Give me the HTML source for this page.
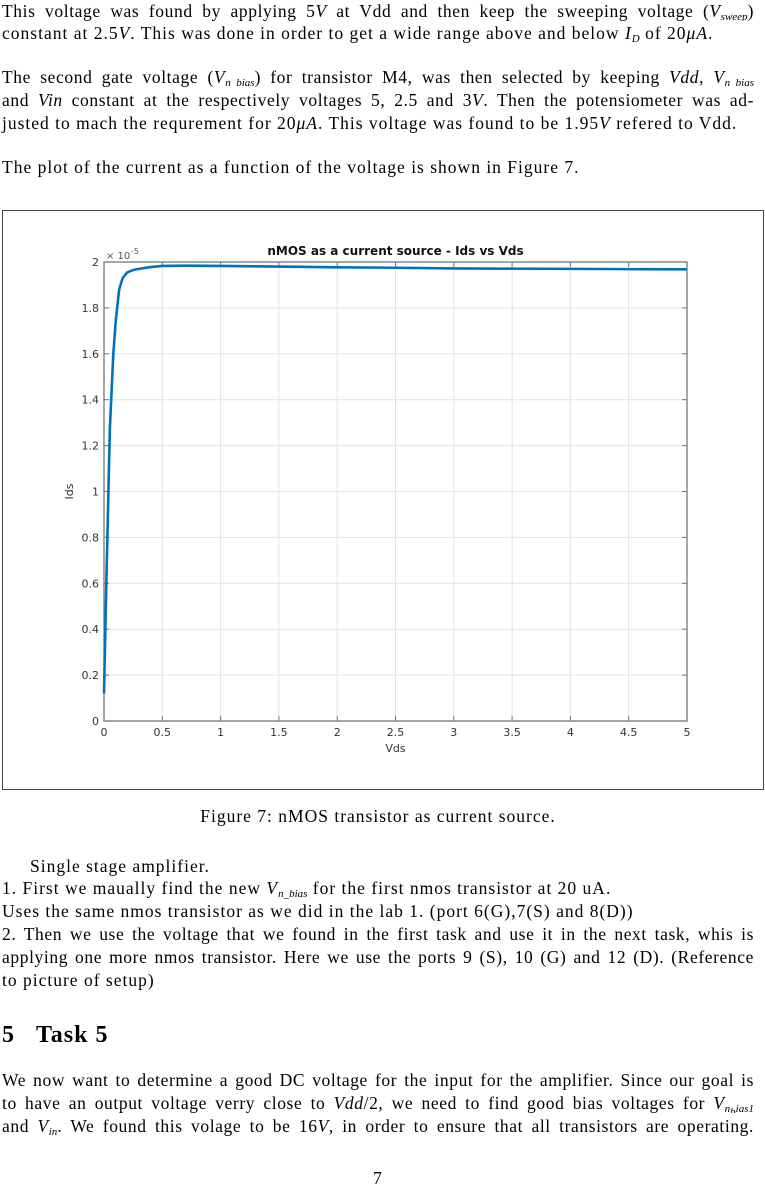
<!DOCTYPE html>
<html><head><meta charset="utf-8"><style>
body{margin:0;background:#fff;}
#page{position:relative;width:765px;height:1186px;overflow:hidden;font-family:"Liberation Serif",serif;font-size:17.5px;letter-spacing:1px;color:#000;}
.ln{position:absolute;left:2px;width:752px;white-space:nowrap;line-height:20px;}
.j{text-align:justify;text-align-last:justify;white-space:normal;height:20px;overflow:hidden;letter-spacing:0.6px;}
.c{text-align:center;}
i{font-style:italic;}
sub{font-size:11px;vertical-align:-3px;line-height:0;letter-spacing:0;}
</style></head><body>
<div id="page">
<div class="ln j" style="top:1px">This voltage was found by applying 5<i>V</i> at Vdd and then keep the sweeping voltage (<i>V<sub>sweep</sub></i>)</div>
<div class="ln" style="top:23px">constant at 2.5<i>V</i>. This was done in order to get a wide range above and below <i>I<sub>D</sub></i> of 20<i>μA</i>.</div>
<div class="ln j" style="top:67px">The second gate voltage (<i>V<sub>n_bias</sub></i>) for transistor M4, was then selected by keeping <i>Vdd</i>, <i>V<sub>n_bias</sub></i></div>
<div class="ln j" style="top:90px">and <i>Vin</i> constant at the respectively voltages 5, 2.5 and 3<i>V</i>. Then the potensiometer was ad-</div>
<div class="ln" style="top:113px">justed to mach the requrement for 20<i>μA</i>. This voltage was found to be 1.95<i>V</i> refered to Vdd.</div>
<div class="ln" style="top:157px">The plot of the current as a function of the voltage is shown in Figure 7.</div>

<svg id="chart" style="position:absolute;left:0;top:0;letter-spacing:0" width="765" height="800">
<rect x="2.5" y="210.5" width="761" height="579" fill="#fff" stroke="#444" stroke-width="1"/>
<g id="grid"></g><g id="axes"></g><g id="series"></g>
</svg>

<div class="ln c" style="top:806px">Figure 7: nMOS transistor as current source.</div>
<div class="ln" style="top:856px;left:30px">Single stage amplifier.</div>
<div class="ln" style="top:878px">1. First we maually find the new <i>V<sub>n_bias</sub></i> for the first nmos transistor at 20 uA.</div>
<div class="ln" style="top:901px">Uses the same nmos transistor as we did in the lab 1. (port 6(G),7(S) and 8(D))</div>
<div class="ln j" style="top:924px">2. Then we use the voltage that we found in the first task and use it in the next task, whis is</div>
<div class="ln j" style="top:947px">applying one more nmos transistor. Here we use the ports 9 (S), 10 (G) and 12 (D). (Reference</div>
<div class="ln" style="top:970px">to picture of setup)</div>
<div class="ln" style="top:1022px;font-size:24px;font-weight:bold;line-height:26px;letter-spacing:1px">5&nbsp;&nbsp;&nbsp;Task 5</div>
<div class="ln j" style="top:1070px">We now want to determine a good DC voltage for the input for the amplifier. Since our goal is</div>
<div class="ln j" style="top:1093px">to have an output voltage verry close to <i>Vdd</i>/2, we need to find good bias voltages for <i>V<sub>n<sub>b</sub>ias1</sub></i></div>
<div class="ln j" style="top:1116px">and <i>V<sub>in</sub></i>. We found this volage to be 16<i>V</i>, in order to ensure that all transistors are operating.</div>
<div class="ln c" style="top:1168px">7</div>
</div>
<script>
const vdsValues=[0,0.02,0.05,0.08,0.1,0.13,0.16,0.2,0.25,0.3,0.4,0.5,0.7,1,1.5,2,2.5,3,3.5,4,4.5,5];
const idsValues=[0.12,0.6,1.27,1.6,1.74,1.88,1.93,1.955,1.965,1.97,1.978,1.983,1.984,1.983,1.98,1.977,1.975,1.972,1.971,1.97,1.969,1.968];
const xTicks=[0,0.5,1,1.5,2,2.5,3,3.5,4,4.5,5];
const yTicks=[0,0.2,0.4,0.6,0.8,1,1.2,1.4,1.6,1.8,2];
const L=104,R=687,T=262,B=721;
const xs=v=>L+(v-0)/5*(R-L);
const ys=v=>B-(v-0)/2*(B-T);
const NS='http://www.w3.org/2000/svg';
function mk(tag,parent,attrs){const e=document.createElementNS(NS,tag);for(const k in attrs)e.setAttribute(k,attrs[k]);parent.appendChild(e);return e;}
const grid=document.getElementById('grid'),axes=document.getElementById('axes'),series=document.getElementById('series');
const F='"DejaVu Sans","Liberation Sans",sans-serif';
xTicks.forEach(t=>{
  const g=mk('line',grid,{x1:xs(t),x2:xs(t),y1:T,y2:B,stroke:'#e3e3e3','stroke-width':1});
  
  
  mk('line',axes,{x1:xs(t),x2:xs(t),y1:B,y2:B-5,stroke:'#777'});
  mk('line',axes,{x1:xs(t),x2:xs(t),y1:T,y2:T+5,stroke:'#777'});
  const tx=mk('text',axes,{x:xs(t),y:B+15,'text-anchor':'middle','font-size':'11','font-family':F,fill:'#333'});
  tx.textContent=String(t);
  
  
});
yTicks.forEach(t=>{
  const g=mk('line',grid,{x1:L,x2:R,y1:ys(t),y2:ys(t),stroke:'#e3e3e3','stroke-width':1});
  
  
  mk('line',axes,{x1:L,x2:L+5,y1:ys(t),y2:ys(t),stroke:'#777'});
  mk('line',axes,{x1:R,x2:R-5,y1:ys(t),y2:ys(t),stroke:'#777'});
  const tx=mk('text',axes,{x:L-5,y:ys(t)+4,'text-anchor':'end','font-size':'11','font-family':F,fill:'#333'});
  tx.textContent=String(t);
  
  
});
const box=mk('rect',axes,{x:L,y:T,width:R-L,height:B-T,fill:'none',stroke:'#777','stroke-width':1.3});


const ex=mk('text',axes,{x:L+2,y:T-3,'font-size':'10','font-family':F,fill:'#555'});
ex.textContent='× 10';


const ex2=mk('text',axes,{x:L+27,y:T-8,'font-size':'8','font-family':F,fill:'#555'});
ex2.textContent='-5';


const ti=mk('text',axes,{x:(L+R)/2,y:T-7,'text-anchor':'middle','font-size':'12','font-weight':'bold','font-family':F,fill:'#111'});
ti.textContent='nMOS as a current source - Ids vs Vds';


const xl=mk('text',axes,{x:(L+R)/2,y:B+31,'text-anchor':'middle','font-size':'11','font-family':F,fill:'#333'});
xl.textContent='Vds';


const yl=mk('text',axes,{x:73,y:(T+B)/2,'text-anchor':'middle','font-size':'11','font-family':F,fill:'#333',transform:'rotate(-90 73 '+((T+B)/2)+')'});
yl.textContent='Ids';


const pl=mk('polyline',series,{points:vdsValues.map((v,i)=>xs(v)+','+ys(idsValues[i])).join(' '),fill:'none',stroke:'#0072BD','stroke-width':2.6,'stroke-linejoin':'round'});


</script>
</body></html>
